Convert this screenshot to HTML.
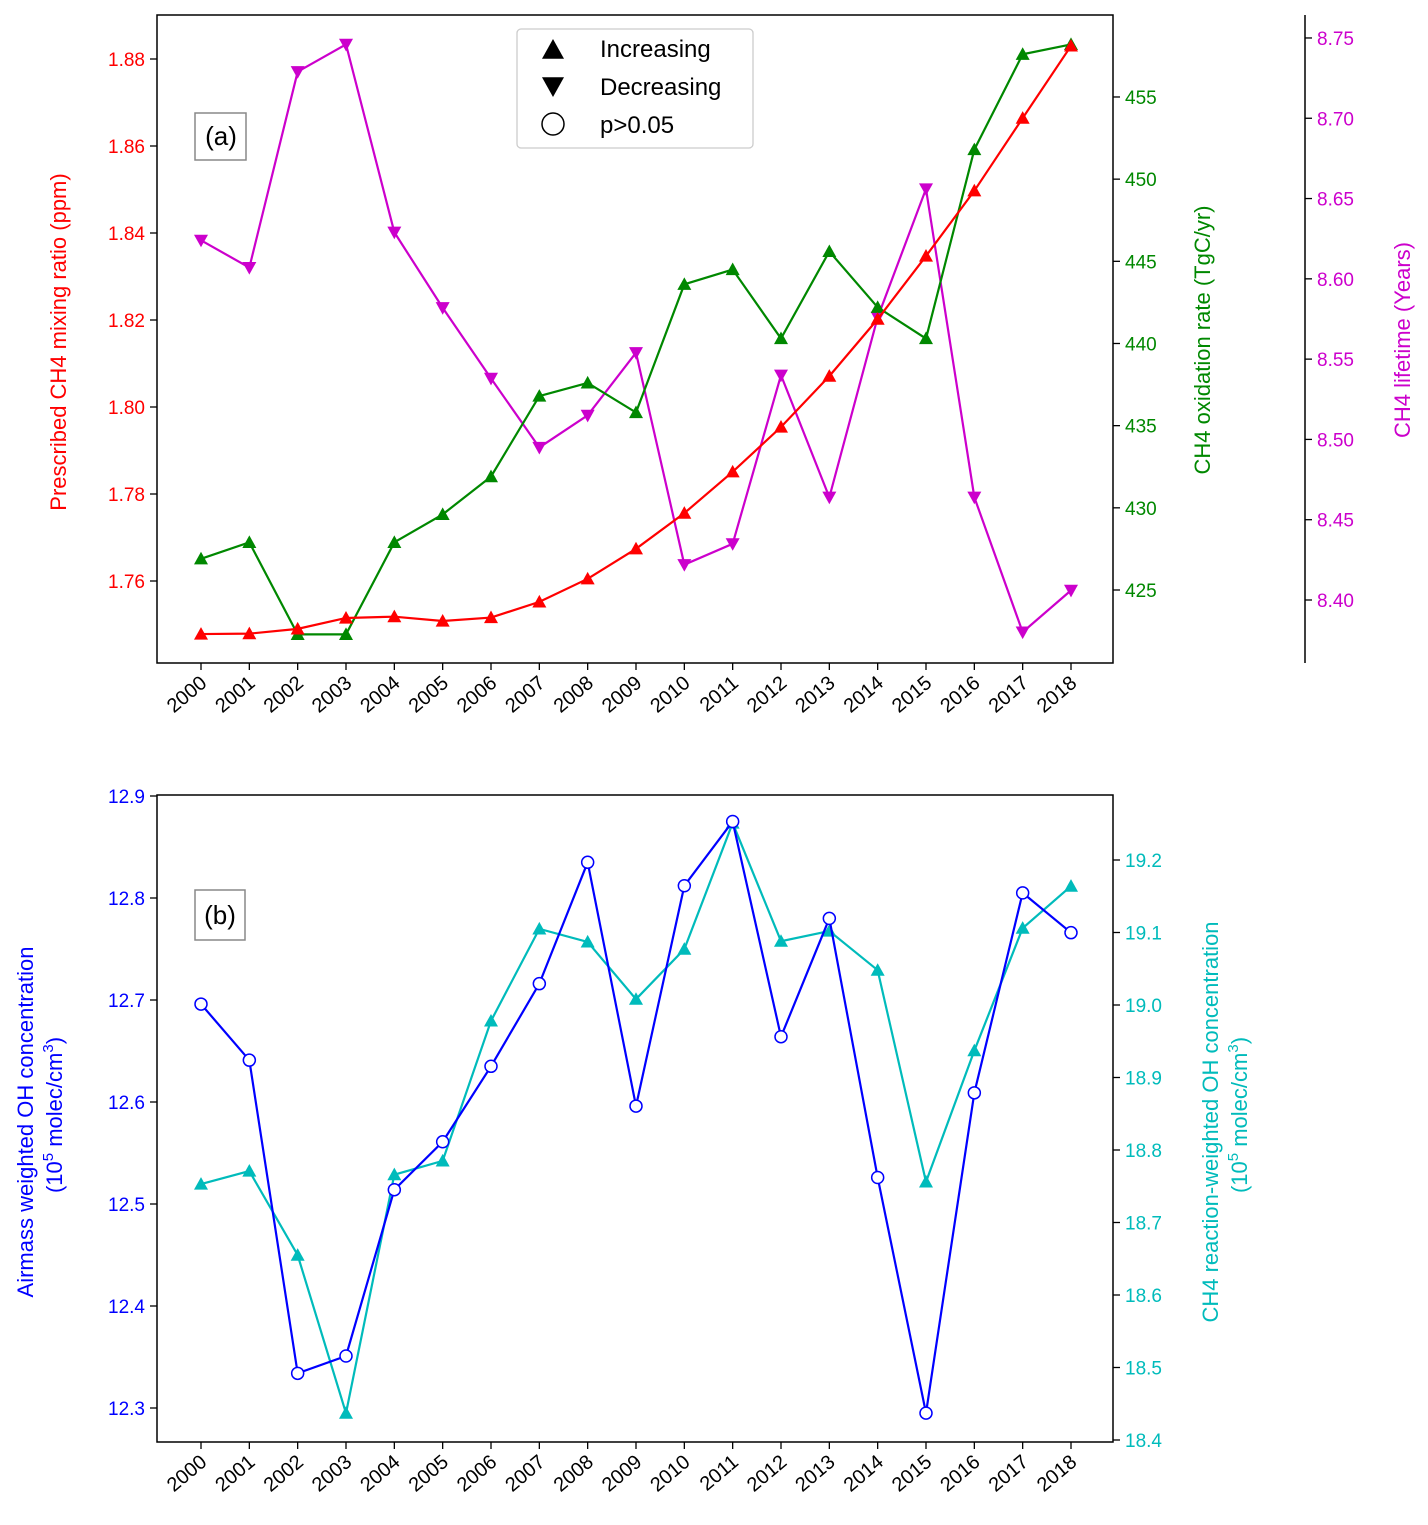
<!DOCTYPE html>
<html><head><meta charset="utf-8"><style>
body{margin:0;background:#fff}
svg{font-family:"Liberation Sans","DejaVu Sans",sans-serif}
</style></head><body>
<svg id="c" width="1428" height="1520"></svg>
<script>
const years=[2000,2001,2002,2003,2004,2005,2006,2007,2008,2009,2010,2011,2012,2013,2014,2015,2016,2017,2018];
const ch4Ppm=[1.7478,1.7479,1.7490,1.7515,1.7518,1.7508,1.7516,1.7552,1.7605,1.7674,1.7756,1.7851,1.7954,1.8071,1.8202,1.8347,1.8497,1.8664,1.8830];
const oxRate=[426.9,427.9,422.3,422.3,427.9,429.6,431.9,436.8,437.6,435.8,443.6,444.5,440.3,445.6,442.2,440.3,451.8,457.6,458.2];
const lifetime=[8.624,8.607,8.729,8.746,8.629,8.582,8.538,8.495,8.515,8.554,8.422,8.435,8.540,8.464,8.576,8.656,8.464,8.380,8.406];
const ohAir=[12.696,12.641,12.334,12.351,12.514,12.561,12.635,12.716,12.835,12.596,12.812,12.875,12.664,12.780,12.526,12.295,12.609,12.805,12.766];
const ohReact=[18.753,18.771,18.655,18.437,18.766,18.785,18.978,19.105,19.087,19.008,19.077,19.251,19.088,19.102,19.048,18.756,18.937,19.106,19.164];
const ppmTicks=[1.76,1.78,1.80,1.82,1.84,1.86,1.88];
const oxTicks=[425,430,435,440,445,450,455];
const lifeTicks=[8.40,8.45,8.50,8.55,8.60,8.65,8.70,8.75];
const airTicks=[12.3,12.4,12.5,12.6,12.7,12.8,12.9];
const reactTicks=[18.4,18.5,18.6,18.7,18.8,18.9,19.0,19.1,19.2];

const S=document.getElementById('c');const NS='http://www.w3.org/2000/svg';
function el(t,a,txt){const e=document.createElementNS(NS,t);for(const k in a)e.setAttribute(k,a[k]);if(txt!==undefined)e.textContent=txt;S.appendChild(e);return e;}
const X=y=>201+(y-2000)*(1071-201)/18;
const yPpm=v=>581-(v-1.76)/0.02*87;
const yOx=v=>590-(v-425)/5*82.17;
const yLife=v=>600-(v-8.40)/0.05*80.29;
const yAir=v=>1408-(v-12.3)/0.1*102;
const yReact=v=>1440-(v-18.4)/0.1*72.5;

function frame(top,bot,name){
  let r=el('rect',{x:157,y:top,width:956,height:bot-top,fill:'none',stroke:'#000','stroke-width':1.5});
  
  years.forEach(yr=>{const x=X(yr);
    el('line',{x1:x,x2:x,y1:bot,y2:bot+7,stroke:'#000','stroke-width':1.3});
    let t=el('text',{x:x+7,y:bot+22,'font-size':20,'text-anchor':'end',transform:`rotate(-40 ${x+7} ${bot+22})`},yr);
    
  });
}
function yaxis(ticks,fy,x,side,color,fmt){
  ticks.forEach(v=>{const y=fy(v);
    el('line',{x1:x,x2:x+(side<0?-7:7),y1:y,y2:y,stroke:'#000','stroke-width':1.3});
    let t=el('text',{x:x+(side<0?-12:12),y:y+7,'font-size':19,fill:color,'text-anchor':side<0?'end':'start'},v.toFixed(fmt));
    
  });
}
function tri(x,y,up,c,name,s){
  s=s||7;const p=up?`${x},${y-s} ${x-s},${y+s*0.8} ${x+s},${y+s*0.8}`:`${x},${y+s} ${x-s},${y-s*0.8} ${x+s},${y-s*0.8}`;
  let e=el('polygon',{points:p,fill:c});
}
function series(vals,fy,color,marker,name){
  const pts=vals.map((v,i)=>[X(years[i]),fy(v)]);
  let l=el('polyline',{points:pts.map(p=>p.join(',')).join(' '),fill:'none',stroke:color,'stroke-width':2.2});
  
  pts.forEach(p=>{
    if(marker==='o'){let c=el('circle',{cx:p[0],cy:p[1],r:6,fill:'#fff',stroke:color,'stroke-width':1.5});}
    else tri(p[0],p[1],marker==='up',color,name+'-point');
  });
}
function label(x,y,color,name,rot){
  let t=el('text',{x:x,y:y,'font-size':22,fill:color,'text-anchor':'middle',transform:`rotate(${rot} ${x} ${y})`});
  
  return t;
}
// Panel a
frame(15,663,'panel-a-frame');
el('line',{x1:1305,x2:1305,y1:15,y2:663,stroke:'#000','stroke-width':1.5});
yaxis(ppmTicks,yPpm,157,-1,'#f00',2);
yaxis(oxTicks,yOx,1113,1,'#080',0);
yaxis(lifeTicks,yLife,1305,1,'#c0c',2);
series(lifetime,yLife,'#c0c','down','lifetime');
series(oxRate,yOx,'#080','up','oxidation');
series(ch4Ppm,yPpm,'#f00','up','ch4-ppm');
label(66,342,'#f00','y-left-a',-90).textContent='Prescribed CH4 mixing ratio (ppm)';
label(1210,340,'#080','y-right-a',-90).textContent='CH4 oxidation rate (TgC/yr)';
label(1410,340,'#c0c','y-far-right-a',-90).textContent='CH4 lifetime (Years)';
let lg=el('rect',{x:517,y:29,width:236,height:119,rx:4,fill:'#fff',stroke:'#ccc','stroke-width':1.3});
tri(553,50,true,'#000','legend-increasing-marker',11);
tri(553,86,false,'#000','legend-decreasing-marker',11);
el('circle',{cx:553,cy:124,r:11,fill:'#fff',stroke:'#000','stroke-width':1.5});
[['Increasing',57],['Decreasing',95],['p>0.05',133]].forEach(a=>{let t=el('text',{x:600,y:a[1],'font-size':24},a[0]);});
el('rect',{x:195,y:113,width:51,height:47,fill:'#fff',stroke:'#888','stroke-width':1.5});
el('text',{x:221,y:145,'font-size':26,'text-anchor':'middle'},'(a)');
// Panel b
frame(795,1442,'panel-b-frame');
yaxis(airTicks,yAir,157,-1,'#00f',1);
yaxis(reactTicks,yReact,1113,1,'#0bb',1);
series(ohReact,yReact,'#0bb','up','oh-reaction');
series(ohAir,yAir,'#00f','o','oh-airmass');
let lb=label(33,1122,'#00f','y-left-b',-90);
lb.textContent='Airmass weighted OH concentration';
let lb2=label(62,1115,'#00f','y-left-b-units',-90);
lb2.innerHTML='(10<tspan font-size="15" dy="-9">5</tspan><tspan dy="9"> molec/cm</tspan><tspan font-size="15" dy="-9">3</tspan><tspan dy="9">)</tspan>';
let rb=label(1218,1122,'#0bb','y-right-b',-90);rb.textContent='CH4 reaction-weighted OH concentration';
let rb2=label(1247,1115,'#0bb','y-right-b-units',-90);
rb2.innerHTML='(10<tspan font-size="15" dy="-9">5</tspan><tspan dy="9"> molec/cm</tspan><tspan font-size="15" dy="-9">3</tspan><tspan dy="9">)</tspan>';
el('rect',{x:195,y:890,width:50,height:50,fill:'#fff',stroke:'#888','stroke-width':1.5});
el('text',{x:220,y:924,'font-size':26,'text-anchor':'middle'},'(b)');
</script>
</body></html>
